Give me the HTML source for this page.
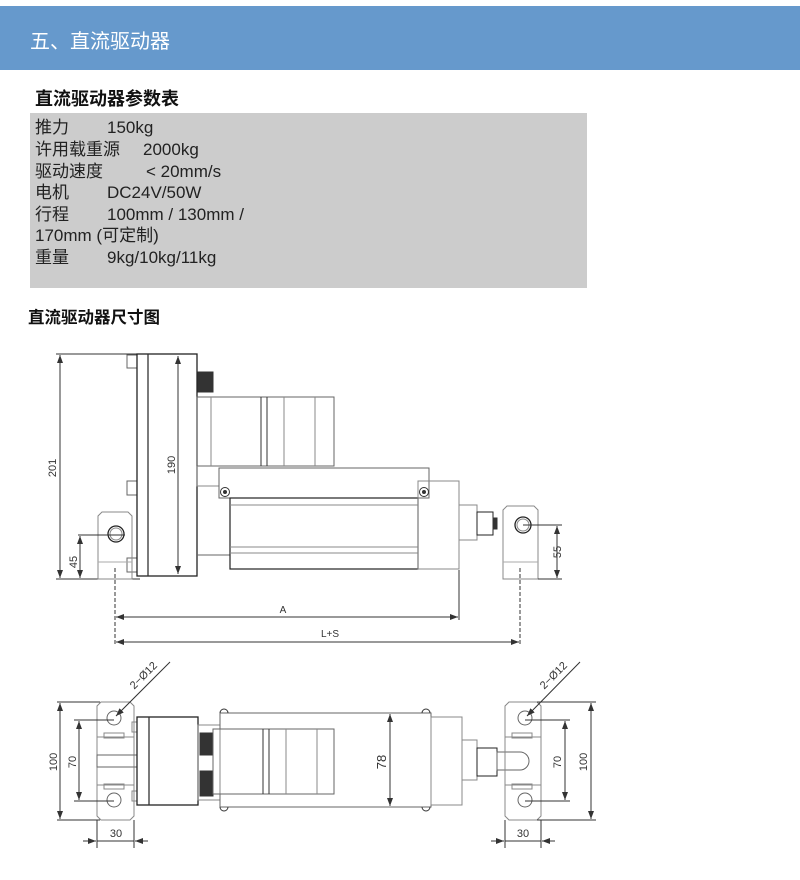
<!DOCTYPE html>
<html><head><meta charset="utf-8"><style>
body{margin:0;width:800px;height:880px;background:#fff;position:relative;overflow:hidden;font-family:"Liberation Sans","Noto Sans CJK SC",sans-serif;}
.hdr{position:absolute;left:0;top:6px;width:800px;height:64px;background:#6699cc;}
.hdr span{position:absolute;left:30px;top:19px;color:#fff;font-size:20px;}
.t1{position:absolute;left:35px;top:85px;font-size:18px;font-weight:bold;color:#111;}
.tbl{position:absolute;left:30px;top:113px;width:557px;height:175px;background:#cccccc;}
.tbl div{position:absolute;font-size:17px;color:#222;white-space:pre;line-height:20px;}
.t2{position:absolute;left:28px;top:304px;font-size:16.5px;font-weight:bold;color:#111;}
svg{position:absolute;left:0;top:0;}
</style></head><body>
<div class="hdr"><span>五、直流驱动器</span></div>
<div class="t1">直流驱动器参数表</div>
<div class="tbl">
<div style="top:5px;left:5px">推力</div><div style="top:5px;left:77px">150kg</div>
<div style="top:27px;left:5px">许用载重源</div><div style="top:27px;left:113px">2000kg</div>
<div style="top:49px;left:5px">驱动速度</div><div style="top:49px;left:116px">&lt; 20mm/s</div>
<div style="top:70px;left:5px">电机</div><div style="top:70px;left:77px">DC24V/50W</div>
<div style="top:92px;left:5px">行程</div><div style="top:92px;left:77px">100mm / 130mm /</div>
<div style="top:113px;left:5px">170mm (可定制)</div>
<div style="top:135px;left:5px">重量</div><div style="top:135px;left:77px">9kg/10kg/11kg</div>
</div>
<div class="t2">直流驱动器尺寸图</div>
<svg width="800" height="880" viewBox="0 0 800 880" font-family="Liberation Sans, sans-serif" font-size="11" fill="none" stroke="#333" stroke-width="1">
<defs><marker id="a" markerWidth="8" markerHeight="6" refX="8" refY="3" orient="auto-start-reverse"><path d="M0,0 L8,3 L0,6 z" fill="#333" stroke="none"/></marker></defs>
<!-- TOP VIEW -->
<line x1="56" y1="354" x2="140" y2="354"/><line x1="56" y1="579" x2="140" y2="579"/>
<line x1="60" y1="355" x2="60" y2="578" marker-start="url(#a)" marker-end="url(#a)"/>
<text x="0" y="0" transform="translate(56,468) rotate(-90)" fill="#333" stroke="none" text-anchor="middle">201</text>
<rect x="127" y="355" width="10" height="13" stroke="#666"/>
<rect x="127" y="481" width="10" height="14" stroke="#666"/>
<rect x="127" y="558" width="10" height="14" stroke="#666"/>
<rect x="137" y="354" width="60" height="222" stroke="#222" stroke-width="1.3"/>
<line x1="148" y1="354" x2="148" y2="576" stroke-width="1.3"/>
<line x1="178" y1="356" x2="178" y2="574" marker-start="url(#a)" marker-end="url(#a)"/>
<text transform="translate(175,465) rotate(-90)" fill="#333" stroke="none" text-anchor="middle">190</text>
<rect x="198" y="372" width="15" height="20" fill="#333"/>
<rect x="197" y="397" width="137" height="69" stroke="#666"/>
<line x1="211" y1="397" x2="211" y2="466" stroke="#888"/><line x1="261" y1="397" x2="261" y2="466"/><line x1="267" y1="397" x2="267" y2="466"/><line x1="284" y1="397" x2="284" y2="466" stroke="#888"/><line x1="315" y1="397" x2="315" y2="466" stroke="#888"/>
<path d="M197 466 V486 H219" stroke="#888"/>
<path d="M197 555 H230" stroke="#666"/>
<rect x="219" y="468" width="210" height="30" stroke="#666"/>
<circle cx="225" cy="492" r="4.5"/><circle cx="225" cy="492" r="1.5" fill="#333"/>
<circle cx="424" cy="492" r="4.5"/><circle cx="424" cy="492" r="1.5" fill="#333"/>
<rect x="230" y="498" width="188" height="71" stroke="#222" stroke-width="1.2"/>
<line x1="230" y1="505" x2="418" y2="505" stroke="#888"/><line x1="230" y1="547" x2="418" y2="547" stroke="#888"/><line x1="230" y1="553" x2="418" y2="553" stroke="#888"/>
<rect x="418" y="481" width="41" height="88" stroke="#888"/>
<rect x="459" y="505" width="18" height="35" stroke="#888"/>
<rect x="477" y="512" width="16" height="23" stroke="#222"/><rect x="493" y="518" width="4" height="11" fill="#333"/>
<path d="M98 579 V516 l4 -4 H128 l4 4 V579 Z" stroke="#888"/><line x1="98" y1="562" x2="132" y2="562" stroke="#aaa"/>
<circle cx="116" cy="534" r="8" stroke="#222" stroke-width="1.3"/><circle cx="116" cy="534" r="6" stroke="#888"/>
<line x1="78" y1="535" x2="125" y2="535"/>
<line x1="80" y1="536" x2="80" y2="578" marker-start="url(#a)" marker-end="url(#a)"/>
<text transform="translate(77,562) rotate(-90)" fill="#333" stroke="none" text-anchor="middle">45</text>
<path d="M503 579 V510 l4 -4 H534 l4 4 V579 Z" stroke="#888"/><line x1="503" y1="562" x2="538" y2="562" stroke="#aaa"/>
<circle cx="523" cy="525" r="8" stroke="#222" stroke-width="1.3"/><circle cx="523" cy="525" r="6" stroke="#888"/>
<line x1="523" y1="525" x2="562" y2="525"/><line x1="538" y1="579" x2="562" y2="579"/>
<line x1="557" y1="526" x2="557" y2="578" marker-start="url(#a)" marker-end="url(#a)"/>
<text transform="translate(561,552) rotate(-90)" fill="#333" stroke="none" text-anchor="middle">55</text>
<line x1="115" y1="568" x2="115" y2="646" stroke-dasharray="4 2"/><line x1="459" y1="570" x2="459" y2="620"/><line x1="520" y1="568" x2="520" y2="646" stroke-dasharray="4 2"/>
<line x1="116" y1="617" x2="458" y2="617" marker-start="url(#a)" marker-end="url(#a)"/>
<text x="283" y="613" fill="#333" stroke="none" text-anchor="middle" font-size="10">A</text>
<line x1="116" y1="642" x2="519" y2="642" marker-start="url(#a)" marker-end="url(#a)"/>
<text x="330" y="637" fill="#333" stroke="none" text-anchor="middle" font-size="10">L+S</text>
<!-- BOTTOM VIEW -->
<path d="M97 706 l4 -4 H130 l4 4 V816 l-4 4 H101 l-4 -4 Z" stroke="#888"/>
<rect x="97" y="737" width="37" height="48" stroke="#888"/><rect x="97" y="755" width="40" height="12" stroke="#666"/>
<rect x="104" y="733" width="20" height="5" stroke="#888"/><rect x="104" y="784" width="20" height="5" stroke="#888"/>
<circle cx="114" cy="718" r="7" stroke="#666"/><circle cx="114" cy="800" r="7" stroke="#666"/>
<line x1="57" y1="702" x2="100" y2="702"/><line x1="57" y1="820" x2="100" y2="820"/>
<line x1="60" y1="703" x2="60" y2="819" marker-start="url(#a)" marker-end="url(#a)"/>
<text transform="translate(57,762) rotate(-90)" fill="#333" stroke="none" text-anchor="middle">100</text>
<line x1="74" y1="720" x2="114" y2="720"/><line x1="74" y1="801" x2="114" y2="801"/>
<line x1="79" y1="721" x2="79" y2="800" marker-start="url(#a)" marker-end="url(#a)"/>
<text transform="translate(76,762) rotate(-90)" fill="#333" stroke="none" text-anchor="middle">70</text>
<line x1="97" y1="820" x2="97" y2="848"/><line x1="134" y1="820" x2="134" y2="848"/>
<line x1="83" y1="841" x2="96" y2="841" marker-end="url(#a)"/><line x1="148" y1="841" x2="135" y2="841" marker-end="url(#a)"/><line x1="97" y1="841" x2="134" y2="841"/>
<text x="116" y="837" fill="#333" stroke="none" text-anchor="middle">30</text>
<line x1="170" y1="662" x2="116" y2="716" marker-end="url(#a)"/>
<text transform="translate(146,678) rotate(-45)" fill="#333" stroke="none" text-anchor="middle">2−Ø12</text>
<rect x="132" y="722" width="5" height="10" stroke="#888"/><rect x="132" y="791" width="5" height="10" stroke="#888"/>
<rect x="137" y="717" width="61" height="88" stroke="#222" stroke-width="1.3"/>
<line x1="149" y1="717" x2="149" y2="805" stroke-width="1.3"/>
<rect x="198" y="725" width="22" height="75" stroke="#888"/>
<rect x="200" y="733" width="13" height="22" fill="#333"/><rect x="200" y="771" width="13" height="25" fill="#333"/>
<rect x="213" y="729" width="121" height="65" stroke="#666"/>
<line x1="263" y1="729" x2="263" y2="794"/><line x1="269" y1="729" x2="269" y2="794"/><line x1="286" y1="729" x2="286" y2="794" stroke="#888"/><line x1="317" y1="729" x2="317" y2="794" stroke="#888"/>
<path d="M220 729 V713 H431 V807 H220 V794" stroke="#666"/>
<path d="M220 713 a4 4 0 0 1 8 0" /><path d="M220 807 a4 4 0 0 0 8 0"/>
<path d="M422 713 a4 4 0 0 1 8 0" /><path d="M422 807 a4 4 0 0 0 8 0"/>
<line x1="390" y1="714" x2="390" y2="806" marker-start="url(#a)" marker-end="url(#a)"/>
<text transform="translate(386,762) rotate(-90)" fill="#333" stroke="none" text-anchor="middle" font-size="13">78</text>
<rect x="431" y="717" width="31" height="88" stroke="#888"/>
<rect x="462" y="740" width="15" height="40" stroke="#888"/>
<rect x="477" y="748" width="20" height="28" stroke="#222"/>
<path d="M497 752 H520 a9 9 0 0 1 0 18 H497 Z" stroke="#666"/>
<path d="M505 706 l4 -4 H537 l4 4 V816 l-4 4 H509 l-4 -4 Z" stroke="#888"/>
<rect x="505" y="737" width="36" height="48" stroke="#888"/>
<rect x="512" y="733" width="20" height="5" stroke="#888"/><rect x="512" y="784" width="20" height="5" stroke="#888"/>
<circle cx="525" cy="718" r="7" stroke="#666"/><circle cx="525" cy="800" r="7" stroke="#666"/>
<line x1="525" y1="720" x2="570" y2="720"/><line x1="525" y1="801" x2="570" y2="801"/>
<line x1="565" y1="721" x2="565" y2="800" marker-start="url(#a)" marker-end="url(#a)"/>
<text transform="translate(561,762) rotate(-90)" fill="#333" stroke="none" text-anchor="middle">70</text>
<line x1="537" y1="702" x2="596" y2="702"/><line x1="537" y1="820" x2="596" y2="820"/>
<line x1="591" y1="703" x2="591" y2="819" marker-start="url(#a)" marker-end="url(#a)"/>
<text transform="translate(587,762) rotate(-90)" fill="#333" stroke="none" text-anchor="middle">100</text>
<line x1="505" y1="820" x2="505" y2="848"/><line x1="541" y1="820" x2="541" y2="848"/>
<line x1="491" y1="841" x2="504" y2="841" marker-end="url(#a)"/><line x1="555" y1="841" x2="542" y2="841" marker-end="url(#a)"/><line x1="505" y1="841" x2="541" y2="841"/>
<text x="523" y="837" fill="#333" stroke="none" text-anchor="middle">30</text>
<line x1="580" y1="662" x2="527" y2="716" marker-end="url(#a)"/>
<text transform="translate(556,678) rotate(-45)" fill="#333" stroke="none" text-anchor="middle">2−Ø12</text>
</svg>
</body></html>
